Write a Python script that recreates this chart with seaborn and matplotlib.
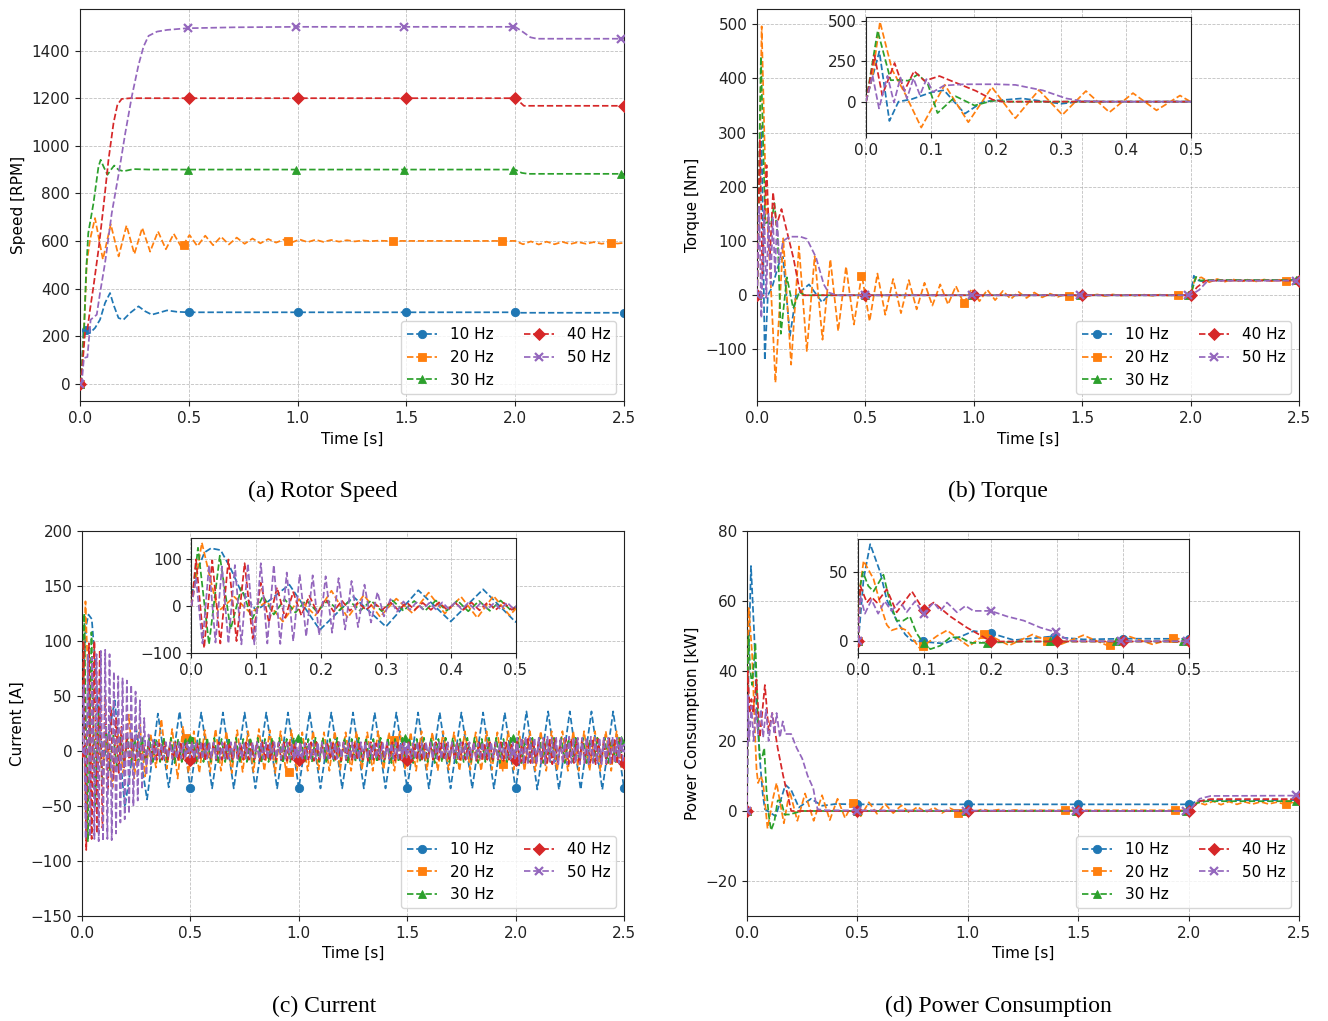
import numpy as np
import matplotlib
matplotlib.use("Agg")
import matplotlib.pyplot as plt
from matplotlib.lines import Line2D
import seaborn as sns

# ======================= DATA =======================
LABELS = ["10 Hz", "20 Hz", "30 Hz", "40 Hz", "50 Hz"]
TIME_TICKS = [0.0, 0.5, 1.0, 1.5, 2.0, 2.5]
INSET_TIME_TICKS = [0.0, 0.1, 0.2, 0.3, 0.4, 0.5]
CAPTIONS = ["(a) Rotor Speed", "(b) Torque", "(c) Current", "(d) Power Consumption"]
YLABELS = ["Speed [RPM]", "Torque [Nm]", "Current [A]", "Power Consumption [kW]"]
SPEED_TICKS = [0, 200, 400, 600, 800, 1000, 1200, 1400]
TORQUE_TICKS = [-100, 0, 100, 200, 300, 400, 500]
CURRENT_TICKS = [-150, -100, -50, 0, 50, 100, 150, 200]
POWER_TICKS = [-20, 0, 20, 40, 60, 80]
TORQUE_INSET_TICKS = [0, 250, 500]
CURRENT_INSET_TICKS = [-100, 0, 100]
POWER_INSET_TICKS = [0, 50]

# marker sample times per series
MT_10 = [0, 0.5, 1.0, 1.5, 2.0, 2.5]
MT_20 = [0, 0.48, 0.955, 1.44, 1.94, 2.44]
MT_30 = [0, 0.497, 0.994, 1.491, 1.988, 2.485]
MT_40 = [0, 0.5, 1.0, 1.5, 2.0, 2.5]
MT_50 = [0, 0.497, 0.994, 1.491, 1.988, 2.485]

# ---------------- (a) rotor speed [RPM] ----------------
SPEED_10_T = [0, 0.005, 0.015, 0.028, 0.046, 0.069, 0.092, 0.115, 0.138, 0.154,
              0.177, 0.2, 0.23, 0.269, 0.3, 0.33, 0.37, 0.4, 0.446, 0.5, 2.0, 2.03, 2.5]
SPEED_10_V = [0, 3, 213, 227, 213, 234, 269, 339, 381, 332,
              276, 269, 297, 325, 304, 290, 300, 308, 302, 300, 300, 298, 298]
SPEED_20_T0 = [0, 0.005, 0.018, 0.031, 0.046]
SPEED_20_V0 = [0, 3, 213, 507, 605]
SPEED_20_OSC1 = [696, 522, 670, 535, 665, 545, 655, 555, 640, 565,
                 630, 572, 625, 578, 622, 582, 618, 585, 614, 588,
                 610, 590, 608, 593, 606, 594, 606, 595, 605, 596,
                 604, 597, 603, 598, 602, 599, 601, 600, 600]
SPEED_20_T1 = [1.7, 2.0]
SPEED_20_V1 = [600, 600]
SPEED_20_OSC2 = [586, 598, 585, 597, 586, 596, 587, 595, 588, 595, 588, 594, 589]
SPEED_20_T2 = [2.5]
SPEED_20_V2 = [592]
SPEED_30_T = [0, 0.005, 0.018, 0.028, 0.038, 0.062, 0.085, 0.095, 0.108, 0.126,
              0.142, 0.157, 0.177, 0.2, 0.246, 0.32, 2.0, 2.03, 2.06, 2.5]
SPEED_30_V = [0, 3, 213, 465, 633, 759, 913, 941, 913, 878,
              899, 917, 899, 893, 902, 900, 900, 886, 882, 882]
SPEED_40_T = [0, 0.005, 0.023, 0.034, 0.046, 0.062, 0.085, 0.108, 0.131, 0.154,
              0.172, 0.192, 0.23, 2.0, 2.02, 2.04, 2.5]
SPEED_40_V = [0, 3, 213, 227, 311, 409, 563, 745, 941, 1095,
              1173, 1197, 1200, 1200, 1185, 1168, 1168]
SPEED_50_T = [0, 0.008, 0.018, 0.034, 0.049, 0.077, 0.092, 0.115, 0.146, 0.177,
              0.208, 0.238, 0.269, 0.292, 0.315, 0.354, 0.4, 0.49, 0.708, 1.0,
              2.0, 2.03, 2.07, 2.1, 2.5]
SPEED_50_V = [0, 3, 108, 112, 269, 290, 381, 507, 717, 878,
              1053, 1207, 1340, 1417, 1462, 1480, 1487, 1494, 1498, 1500,
              1500, 1482, 1456, 1450, 1450]
SPEED_MK = [([0, 0.028, 0.5, 1.0, 1.5, 2.0, 2.5], [0, 227, 300, 300, 300, 300, 298]),
            (MT_20, [0, 582, 601, 600, 600, 591]),
            (MT_30, [0, 900, 900, 900, 900, 882]),
            (MT_40, [0, 1200, 1200, 1200, 1200, 1168]),
            (MT_50, [0, 1494, 1500, 1500, 1500, 1450])]

# ---------------- (b) torque [Nm] ----------------
TRQ_10_T = [0, 0.0205, 0.036, 0.05, 0.07, 0.1, 0.12, 0.152, 0.18, 0.24,
            0.3, 0.33, 0.4, 2.0, 2.015, 2.03, 2.05, 2.1, 2.5]
TRQ_10_V = [0, 312, -120, 0, 15, 57, 71, -75, 0, 20,
            -13, 0, 0, 0, 36, 28, 26, 27, 28]
TRQ_20_T0 = [0, 0.01, 0.0215, 0.04, 0.06]
TRQ_20_V0 = [0, 160, 496, 200, 50]
TRQ_20_OSC1 = [-161, 105, -128, 90, -103, 72, -82, 66, -66, 53,
               -54, 38, -48, 40, -36, 30, -33, 28, -26, 23,
               -19, 20, -17, 17, -15, 12, -11, 10, -9, 8,
               -7, 6, -5, 5, -4, 3, -3, 2, -2, 1,
               -1.5, 1.5, -1.5, 1.5, -1, 1, -1, 1, -1, 1, -0.5, 0.5, -0.5]
TRQ_20_T1 = [2.0, 2.02]
TRQ_20_V1 = [0, 30]
TRQ_20_OSC2 = [33, 24, 30, 25, 29.5, 25, 29, 25.5, 29, 26, 28.5, 26, 28]
TRQ_20_T2 = [2.5]
TRQ_20_V2 = [27]
TRQ_30_T = [0, 0.018, 0.038, 0.05, 0.065, 0.08, 0.095, 0.11, 0.138, 0.167,
            0.195, 0.22, 2.0, 2.025, 2.045, 2.07, 2.5]
TRQ_30_V = [0, 440, 133, 135, 130, 170, 110, -71, 33, -24,
            6, 0, 0, 34, 27, 28, 28]
TRQ_40_T = [0, 0.013, 0.025, 0.044, 0.059, 0.074, 0.09, 0.113, 0.144, 0.169,
            0.195, 0.21, 2.0, 2.03, 2.07, 2.5]
TRQ_40_V = [0, 288, 40, 240, 67, 190, 129, 159, 108, 67,
            12, 0, 0, 15, 27, 27]
TRQ_50_T = [0, 0.01, 0.02, 0.033, 0.043, 0.053, 0.063, 0.073, 0.083, 0.093,
            0.103, 0.12, 0.15, 0.2, 0.23, 0.272, 0.308, 0.33, 0.37, 2.0,
            2.04, 2.08, 2.5]
TRQ_50_V = [0, 165, -42, 160, -5, 150, 20, 145, 40, 140,
            60, 100, 108, 108, 104, 70, 20, 5, 0, 0,
            10, 27, 27]
TRQ_MK = [(MT_10, [0, 0, 0, 0, 0, 29]),
          (MT_20, [0, 36, -15, -2, 0, 26]),
          (MT_30, [0, 0, 0, 0, 0, 28]),
          (MT_40, [0, 0, 0, 0, 0, 27]),
          (MT_50, [0, 0, 0, 0, 0, 27])]

# ---------------- (c) current [A] ----------------
CUR_10_T = [0, 0.01, 0.02, 0.03, 0.045, 0.06, 0.075, 0.1, 0.151, 0.198, 0.25, 0.3]
CUR_10_V = [23, 80, 115, 124, 120, 82, 36, -10, 46, -51, 20, -44]
CUR_10_OSC = [34, -33, 36, -34, 35, -34, 35, -34, 35, -34,
              35, -34, 35, -34, 35, -34, 35, -34, 35, -34,
              35, -34, 35, -34, 35, -34, 35, -34, 35, -34,
              35, -34, 35, -35, 36, -35, 36, -35, 36, -35,
              36, -35, 36, -34]
CUR_20_T = [0, 0.016]
CUR_20_V = [0, 136]
CUR_20_OSC = [-12, 20, -15, 10, -33, 15, -20, 33, -25, 24,
              -23, 16, -15, 29, -16, 20, -25, 22, -20,
              18, -20, 19, -19, 20, -18, 18, -20, 19, -19,
              18, -19, 20, -18, 19, -20, 18, -19, 19, -18,
              17, -18, 18, -17, 17, -18, 18, -17, 17, -18,
              18, -17, 17, -18, 18, -17, 17, -18, 18, -17,
              17, -18, 18, -17, 17, -18, 18, -17, 17, -18,
              18, -17, 17, -18, 18, -17, 17, -18, 18, -17,
              18, -18, 18, -18, 18, -18, 18, -18, 18, -18,
              18, -18, 18, -18, 18, -18, 18, -18, 18, -18]
CUR_30_T = [0, 0.01]
CUR_30_V = [0, 125]
CUR_30_OSC = [-82, 108, -50, 40, -28, 22, -18, 15, -14, 13, -12,
              12, -10, 11, -10, 12, -11, 12, -10, 11, -10,
              12, -10, 12, -11, 11, -10, 12, -10, 12, -11,
              11, -10, 12, -10, 12, -11, 11, -10, 12, -10,
              12, -11, 11, -10, 12, -10, 12, -11, 11, -10,
              12, -10, 12, -11, 11, -10, 12, -10, 12, -11,
              11, -10, 12, -10, 12, -11, 11, -10, 12, -10,
              12, -11, 11, -10, 12, -10, 12, -11, 11, -10,
              12, -10, 12, -11, 11, -10, 12, -10, 12, -11,
              11, -10, 12, -10, 12, -11, 11, -10, 12, -10,
              12, -11, 11, -10, 12, -10, 12, -11, 11, -10,
              12, -10, 12, -11, 11, -10, 12, -10, 12, -11,
              11, -10, 12, -10, 12, -11, 11, -10, 12, -10,
              12, -11, 11, -10, 12, -10, 12, -11, 11, -10,
              12, -10, 12, -11, 11, -10, 12, -10]
CUR_40_T = [0]
CUR_40_V = [0]
CUR_40_OSC = [100, -90, 98, -80, 100, -75, 92, -70, 50, -35,
              40, -25, 30, -20, 22, -15, 15, -12, 12, -10,
              8, -8, 7, -8, 8, -9, 8, -8, 7, -8,
              8, -8, 7, -8, 8, -9, 8, -8, 7, -8,
              8, -8, 7, -8, 8, -9, 8, -8, 7, -8,
              8, -8, 7, -8, 8, -9, 8, -8, 7, -8,
              8, -8, 7, -8, 8, -9, 8, -8, 7, -8,
              8, -8, 7, -8, 8, -9, 8, -8, 7, -8,
              8, -8, 7, -8, 8, -9, 8, -8, 7, -8,
              8, -8, 7, -8, 8, -9, 8, -8, 7, -8,
              8, -8, 7, -8, 8, -9, 8, -8, 7, -8,
              8, -8, 7, -8, 8, -9, 8, -8, 7, -8,
              8, -8, 7, -8, 8, -9, 8, -8, 7, -8,
              8, -8, 7, -8, 8, -9, 8, -8, 7, -8,
              8, -8, 7, -8, 8, -9, 8, -8, 7, -8,
              8, -8, 7, -8, 8, -9, 8, -8, 7, -8,
              11, -11, 10, -12, 11, -11, 10, -11, 11, -12,
              11, -11, 10, -12, 11, -11, 10, -11, 11, -12,
              11, -11, 10, -12, 11, -11, 10, -11, 11, -12,
              11, -11, 10, -12, 11, -11, 10, -11, 11, -12]
CUR_50_T = [0]
CUR_50_V = [0]
CUR_50_OSC = [60, -80, 88, -78, 85, -80, 88, -82, 91, -82,
              92, -80, 88, -81, 72, -75, 68, -65, 66, -62,
              64, -57, 60, -50, 54, -45, 46, -35, 30, -22,
              15, -12, 10, -8,
              8, -7, 7, -7, 8, -6, 8, -7, 7, -7,
              8, -7, 7, -7, 8, -6, 8, -7, 7, -7,
              8, -7, 7, -7, 8, -6, 8, -7, 7, -7,
              8, -7, 7, -7, 8, -6, 8, -7, 7, -7,
              8, -7, 7, -7, 8, -6, 8, -7, 7, -7,
              8, -7, 7, -7, 8, -6, 8, -7, 7, -7,
              8, -7, 7, -7, 8, -6, 8, -7, 7, -7,
              8, -7, 7, -7, 8, -6, 8, -7, 7, -7,
              8, -7, 7, -7, 8, -6, 8, -7, 7, -7,
              8, -7, 7, -7, 8, -6, 8, -7, 7, -7,
              8, -7, 7, -7, 8, -6, 8, -7, 7, -7,
              8, -7, 7, -7, 8, -6, 8, -7, 7, -7,
              8, -7, 7, -7, 8, -6, 8, -7, 7, -7,
              8, -7, 7, -7, 8, -6, 8, -7, 7, -7,
              8, -7, 7, -7, 8, -6, 8, -7, 7, -7,
              8, -7, 7, -7, 8, -6, 8, -7, 7, -7,
              8, -7, 7, -7, 8, -7,
              12, -11, 12, -12, 13, -11, 12, -11, 12, -12,
              12, -11, 12, -12, 13, -11, 12, -11, 12, -12,
              12, -11, 12, -12, 13, -11, 12, -11, 12, -12,
              12, -11, 12, -12, 13, -11, 12, -11, 12, -12,
              12, -11, 12, -12, 13, -11, 12, -11, 12, -12]
CUR_MK = [(MT_10, [23, -34, -34, -34, -34, -34]),
          (MT_20, [0, 11.5, -19, 10, -12, 5]),
          (MT_30, [0, 11, 12, 12, 12, 10]),
          (MT_40, [0, -8, -8, -8, -8, -11]),
          (MT_50, [0, 2, -2, 2, -2, 3])]

# ---------------- (d) power consumption [kW] ----------------
POW_10_T = [0, 0.008, 0.018, 0.033, 0.043, 0.058, 0.071, 0.081, 0.13, 0.174,
            0.2, 0.235, 0.29, 0.34, 0.4, 0.5, 2.0, 2.04, 2.08, 2.5]
POW_10_V = [0, 45, 70, 50, 30, 15, 5, 0.5, -1.5, 7.5,
            6, 1, 3.5, 1.5, 2, 1.9, 1.9, 2.8, 3.1, 3.1]
POW_20_T0 = [0, 0.003, 0.008, 0.023, 0.035, 0.043, 0.05, 0.063, 0.073, 0.093,
             0.119, 0.134, 0.167, 0.193, 0.228, 0.263, 0.302, 0.34, 0.375, 0.41,
             0.444, 0.48, 0.515]
POW_20_V0 = [0, 40, 58, 45, 24, 12, 8, 10, 8, -5,
             4, 8, -3.5, 5.7, -2.8, 5, -2.8, 4.5, -2.6, 3.5,
             -2, 2.4, -1.5]
POW_20_OSC1 = [2.5, -0.8, 2, -0.6, 1.6, -0.5, 1.2, -0.4, 1, -0.6,
               0.8, -0.3, 0.6, -0.2, 0.5, 0, 0.4, 0, 0.3, 0.1]
POW_20_T1 = [1.3, 2.0, 2.04]
POW_20_V1 = [0.2, 0.2, 2.5]
POW_20_OSC2 = [1.8, 2.8, 1.8, 2.7, 1.9, 2.6, 2.0, 2.6, 2.0, 2.5, 2.0, 2.4]
POW_20_T2 = [2.5]
POW_20_V2 = [2.2]
POW_30_T = [0, 0.003, 0.007, 0.015, 0.023, 0.038, 0.048, 0.058, 0.068, 0.078,
            0.088, 0.098, 0.109, 0.124, 0.139, 0.154, 0.17, 0.19, 0.25, 2.0,
            2.04, 2.08, 2.5]
POW_30_V = [0, 40, 50, 40, 36, 48, 28, 15, 15, 18,
            6, -1, -5.5, -3, 3, 3, -1, -1, 0, 0,
            2.3, 2.8, 2.8]
POW_40_T = [0, 0.003, 0.013, 0.02, 0.028, 0.043, 0.058, 0.081, 0.098, 0.114,
            0.139, 0.164, 0.19, 0.2, 2.0, 2.05, 2.1, 2.5]
POW_40_V = [0, 40, 28, 32, 28, 37.6, 21, 36, 23, 28,
            18, 10, 3, 0, 0, 2.8, 3.4, 3.4]
POW_50_T = [0, 0.003, 0.01, 0.02, 0.03, 0.04, 0.05, 0.063, 0.073, 0.086,
            0.098, 0.114, 0.124, 0.134, 0.149, 0.162, 0.174, 0.2, 0.225, 0.25,
            0.275, 0.3, 0.31, 0.32, 0.356, 2.0, 2.05, 2.1, 2.5]
POW_50_V = [0, 33, 20, 30, 20, 29, 22, 29, 21, 29,
            20, 28, 22, 28, 21, 25.6, 22, 22, 18, 15,
            10, 6.5, 3, 0.5, 0.2, 0, 3.5, 4.3, 4.4]
POW_MK = [(MT_10, [0, 1.9, 1.9, 1.9, 1.9, 3.1]),
          (MT_20, [0, 2.3, -0.6, 0.3, 0.4, 2.0]),
          (MT_30, [0, 0, 0, 0, 0, 2.8]),
          (MT_40, [0, 0, 0, 0, 0, 3.4]),
          (MT_50, [0, 0, 0, 0, 0, 4.5])]
POW_INSET_MK = [([0, 0.097, 0.2, 0.296, 0.4, 0.5], [0, 0, 6, 3.3, 2, 1.9]),
                ([0, 0.097, 0.19, 0.285, 0.38, 0.475], [0, -3.6, 5.6, 0.6, -2.6, 2.4]),
                ([0, 0.099, 0.194, 0.29, 0.39, 0.49], [0, -1, -1, 0, 0, 0]),
                ([0, 0.1, 0.2, 0.3, 0.4, 0.5], [0, 22.5, 0, 0, 0, 0]),
                ([0, 0.099, 0.2, 0.298, 0.397, 0.497], [0, 19.6, 22, 6.7, 0.2, 0.2])]


# ======================= helpers =======================
def build(parts):
    T, V = [], []
    for p in parts:
        if p[0] == "pts":
            T += list(p[1])
            V += list(p[2])
        else:  # sampled oscillation: values at evenly spaced sample instants
            vals = p[3]
            T += list(np.linspace(p[1], p[2], len(vals)))
            V += list(vals)
    return np.asarray(T, float), np.asarray(V, float)


SPEED = [
    build([("pts", SPEED_10_T, SPEED_10_V)]),
    build([("pts", SPEED_20_T0, SPEED_20_V0), ("osc", 0.069, 1.444, SPEED_20_OSC1),
           ("pts", SPEED_20_T1, SPEED_20_V1), ("osc", 2.036, 2.47, SPEED_20_OSC2),
           ("pts", SPEED_20_T2, SPEED_20_V2)]),
    build([("pts", SPEED_30_T, SPEED_30_V)]),
    build([("pts", SPEED_40_T, SPEED_40_V)]),
    build([("pts", SPEED_50_T, SPEED_50_V)]),
]
TORQUE = [
    build([("pts", TRQ_10_T, TRQ_10_V)]),
    build([("pts", TRQ_20_T0, TRQ_20_V0), ("osc", 0.085, 1.967, TRQ_20_OSC1),
           ("pts", TRQ_20_T1, TRQ_20_V1), ("osc", 2.05, 2.484, TRQ_20_OSC2),
           ("pts", TRQ_20_T2, TRQ_20_V2)]),
    build([("pts", TRQ_30_T, TRQ_30_V)]),
    build([("pts", TRQ_40_T, TRQ_40_V)]),
    build([("pts", TRQ_50_T, TRQ_50_V)]),
]
CURRENT = [
    build([("pts", CUR_10_T, CUR_10_V), ("osc", 0.35, 2.5, CUR_10_OSC)]),
    build([("pts", CUR_20_T, CUR_20_V), ("osc", 0.041, 2.491, CUR_20_OSC)]),
    build([("pts", CUR_30_T, CUR_30_V), ("osc", 0.027, 2.494, CUR_30_OSC)]),
    build([("pts", CUR_40_T, CUR_40_V), ("osc", 0.007, 2.494, CUR_40_OSC)]),
    build([("pts", CUR_50_T, CUR_50_V), ("osc", 0.007, 2.497, CUR_50_OSC)]),
]
POWER = [
    build([("pts", POW_10_T, POW_10_V)]),
    build([("pts", POW_20_T0, POW_20_V0), ("osc", 0.552, 1.25, POW_20_OSC1),
           ("pts", POW_20_T1, POW_20_V1), ("osc", 2.075, 2.47, POW_20_OSC2),
           ("pts", POW_20_T2, POW_20_V2)]),
    build([("pts", POW_30_T, POW_30_V)]),
    build([("pts", POW_40_T, POW_40_V)]),
    build([("pts", POW_50_T, POW_50_V)]),
]

# ======================= style =======================
sns.set_style("ticks")
plt.rcParams["font.family"] = ["DejaVu Sans"]
plt.rcParams.update({
    "font.size": 11, "axes.labelsize": 11, "xtick.labelsize": 11,
    "ytick.labelsize": 11, "legend.fontsize": 11,
    "axes.edgecolor": "#222222", "xtick.color": "#222222", "ytick.color": "#222222",
    "text.color": "black", "axes.labelcolor": "black",
})
COLORS = sns.color_palette("tab10")[:5]
MARKERS = ["o", "s", "^", "D", "x"]
LW = 1.25
MS = 6


def draw(ax, curves, marks):
    for i, (T, V) in enumerate(curves):
        c = COLORS[i]
        sns.lineplot(x=T, y=V, ax=ax, color=c, linestyle="--", linewidth=LW,
                     estimator=None, sort=False, legend=False, zorder=2 + i)
        if marks is not None:
            mt, mv = marks[i]
            sns.lineplot(x=np.asarray(mt, float), y=np.asarray(mv, float), ax=ax,
                         color=c, linestyle="none", marker=MARKERS[i], markersize=MS,
                         markeredgecolor=c,
                         markeredgewidth=1.6 if MARKERS[i] == "x" else 0.6,
                         estimator=None, sort=False, legend=False, zorder=2 + i)


def style_axes(ax, xticks, xlim, yticks, ylim):
    ax.set_xlim(*xlim)
    ax.set_xticks(xticks)
    ax.set_ylim(*ylim)
    ax.set_yticks(yticks)
    ax.grid(True, linestyle="--", linewidth=0.6, color="#b0b0b0", alpha=0.8)
    ax.set_axisbelow(True)


fig = plt.figure(figsize=(13.28, 10.21), dpi=100)

main_pos = [
    [0.06024, 0.60676, 0.40964, 0.38443],
    [0.57003, 0.60676, 0.40813, 0.38443],
    [0.06175, 0.10284, 0.40813, 0.37708],
    [0.56250, 0.10284, 0.41566, 0.37708],
]
panels = [SPEED, TORQUE, CURRENT, POWER]
marks = [SPEED_MK, TRQ_MK, CUR_MK, POW_MK]
yticks = [SPEED_TICKS, TORQUE_TICKS, CURRENT_TICKS, POWER_TICKS]
ylims = [(-75, 1575), (-196, 528), (-150, 200), (-30, 80)]

handles = [Line2D([], [], color=COLORS[i], linestyle="--", linewidth=LW,
                  marker=MARKERS[i], markersize=MS, markeredgecolor=COLORS[i],
                  markeredgewidth=1.6 if MARKERS[i] == "x" else 0.6)
           for i in range(5)]

for k in range(4):
    ax = fig.add_axes(main_pos[k])
    draw(ax, panels[k], marks[k])
    style_axes(ax, TIME_TICKS, (0, 2.5), yticks[k], ylims[k])
    ax.set_xlabel("Time [s]")
    ax.set_ylabel(YLABELS[k])
    ax.legend(handles, LABELS, ncol=2, loc="lower right")

# insets
inset_specs = [
    (TORQUE, None, [0.65211, 0.86925, 0.24473, 0.11440], TORQUE_INSET_TICKS, (-198, 528)),
    (CURRENT, None, [0.14420, 0.36043, 0.24398, 0.11263], CURRENT_INSET_TICKS, (-100.5, 146)),
    (POWER, POW_INSET_MK, [0.64630, 0.36013, 0.24925, 0.11195], POWER_INSET_TICKS, (-8.5, 73.7)),
]
for curves, mk, pos, yt, yl in inset_specs:
    axi = fig.add_axes(pos)
    axi.set_zorder(10)
    axi.set_facecolor("white")
    draw(axi, curves, mk)
    style_axes(axi, INSET_TIME_TICKS, (0, 0.5), yt, yl)
    axi.set_xlabel("")
    axi.set_ylabel("")

cap_pos = [(0.2432, 0.5191), (0.7515, 0.5191), (0.2440, 0.0147), (0.7515, 0.0147)]
for (x, y), txt in zip(cap_pos, CAPTIONS):
    fig.text(x, y, txt, ha="center", va="center", fontsize=17,
             family=["Liberation Serif", "DejaVu Serif"])

fig.savefig("out.png", dpi=100)
